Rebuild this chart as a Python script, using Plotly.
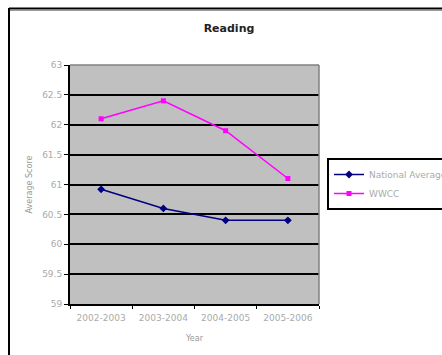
import plotly.graph_objects as go

years = ["2002-2003", "2003-2004", "2004-2005", "2005-2006"]
national = [60.92, 60.6, 60.4, 60.4]
wwcc = [62.1, 62.4, 61.9, 61.1]
y_ticks = [59, 59.5, 60, 60.5, 61, 61.5, 62, 62.5, 63]
y_tick_text = ["59", "59.5", "60", "60.5", "61", "61.5", "62", "62.5", "63"]

W, H = 442, 355
L, R, T, B = 70, 123, 65, 51
pw, ph = W - L - R, H - T - B

def px(x):
    return (x - L) / pw

def py(y):
    return (H - B - y) / ph

fig = go.Figure()
fig.add_trace(go.Scatter(x=years, y=national, name="National Average", mode="lines+markers",
                         line=dict(color="#000080", width=1.5),
                         marker=dict(symbol="diamond", size=6, color="#000080")))
fig.add_trace(go.Scatter(x=years, y=wwcc, name="WWCC", mode="lines+markers",
                         line=dict(color="#FF00FF", width=1.5),
                         marker=dict(symbol="square", size=5, color="#FF00FF")))

font = "DejaVu Sans, sans-serif"
fig.update_layout(
    width=W, height=H,
    margin=dict(l=L, r=R, t=T, b=B, autoexpand=False),
    paper_bgcolor="white", plot_bgcolor="#C0C0C0",
    title=dict(text="<b>Reading</b>", x=px(229), xref="paper", xanchor="center",
               y=1 - 28 / H, yanchor="middle", font=dict(family=font, size=11, color="#222")),
    font=dict(family=font, size=8, color="#AAAAAA"),
    showlegend=True,
    legend=dict(x=px(327), y=py(184), xanchor="left", yanchor="middle",
                bordercolor="black", borderwidth=2, bgcolor="white",
                font=dict(family=font, size=9, color="#AAAAAA"),
                tracegroupgap=0, itemwidth=30),
    xaxis=dict(type="category", tickson="boundaries", ticks="outside", ticklen=3,
               tickcolor="black", showline=True, linecolor="black", linewidth=2,
               showgrid=False, mirror=False, tickfont=dict(family=font, size=9, color="#AAAAAA"),
               ticklabelstandoff=4,
               title=dict(text="Year", font=dict(family=font, size=8, color="#999999"), standoff=14),
               range=[-0.5, 3.5]),
    yaxis=dict(range=[59, 63], tickvals=y_ticks, ticktext=y_tick_text, ticks="outside",
               ticklen=4, tickcolor="black", showline=True, linecolor="black", linewidth=2,
               showgrid=True, gridcolor="black", gridwidth=2, zeroline=False,
               tickfont=dict(family=font, size=9, color="#AAAAAA"),
               title=dict(text="Average Score", font=dict(family=font, size=8, color="#999999"), standoff=8)),
    shapes=[
        dict(type="line", xref="paper", yref="paper", x0=px(9), x1=px(442), y0=py(8.5), y1=py(8.5),
             line=dict(color="black", width=2)),
        dict(type="line", xref="paper", yref="paper", x0=px(9), x1=px(442), y0=py(10.5), y1=py(10.5),
             line=dict(color="#999999", width=1)),
        dict(type="line", xref="paper", yref="paper", x0=px(9), x1=px(9), y0=py(8), y1=py(355),
             line=dict(color="black", width=2)),
        dict(type="line", xref="paper", yref="paper", x0=0, x1=1, y0=1, y1=1,
             line=dict(color="#808080", width=1.5)),
        dict(type="line", xref="paper", yref="paper", x0=1, x1=1, y0=0, y1=1,
             line=dict(color="#808080", width=1.5)),
    ],
)

fig.write_html("out.html")
